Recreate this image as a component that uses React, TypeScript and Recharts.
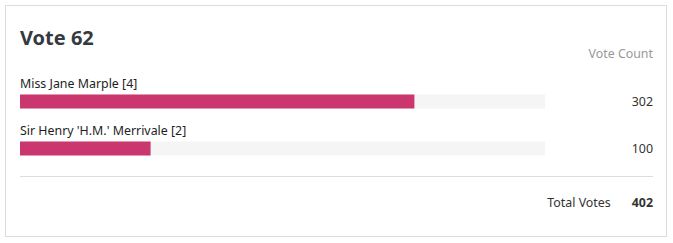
import React from "react";
import { Bar, BarChart, LabelList, XAxis, YAxis } from "recharts";

const candidates = ["Miss Jane Marple [4]", "Sir Henry 'H.M.' Merrivale [2]"];
const votes = [302, 100];
const totalVotes = 402;

const CHART_W = 633;
const FONT = "'Noto Sans', 'Open Sans', sans-serif";

const data = candidates.map((name, i) => ({ name, votes: votes[i] }));

const NameLabel = (props: any) => {
	const { x, y, value } = props;
	return (
		<text x={x} y={y - 7} fontSize={12.4} fill="#1e1e1e" fontFamily={FONT}>
			{value}
		</text>
	);
};

const CountLabel = (props: any) => {
	const { y, height, value } = props;
	return (
		<text
			x={CHART_W}
			y={y + height / 2}
			dy={4}
			fontSize={12.4}
			fill="#333"
			textAnchor="end"
			fontFamily={FONT}
		>
			{value}
		</text>
	);
};

export default function App() {
	return (
		<div
			style={{
				position: "absolute",
				left: 0,
				top: 0,
				width: 673,
				height: 243,
				background: "#fff",
				fontFamily: FONT,
			}}
		>
			<div
				style={{
					position: "absolute",
					left: 5,
					top: 5,
					width: 660,
					height: 230,
					border: "1px solid #dcdcdc",
				}}
			/>
			<div
				style={{
					position: "absolute",
					left: 20,
					top: 24,
					fontSize: 20,
					fontWeight: 700,
					color: "#343a40",
				}}
			>
				Vote 62
			</div>
			<div
				style={{
					position: "absolute",
					right: 20,
					top: 45,
					fontSize: 12.4,
					color: "#999",
				}}
			>
				Vote Count
			</div>
			<div style={{ position: "absolute", left: 20, top: 60 }}>
				<BarChart
					width={CHART_W}
					height={111.5}
					data={data}
					layout="vertical"
					margin={{ top: 17.5, right: 108, left: 0, bottom: 0 }}
				>
					<XAxis type="number" domain={[0, totalVotes]} hide />
					<YAxis type="category" dataKey="name" hide />
					<Bar
						dataKey="votes"
						fill="#c9376e"
						barSize={14}
						background={{ fill: "#f5f5f5" }}
						isAnimationActive={false}
					>
						<LabelList dataKey="name" content={<NameLabel />} />
						<LabelList dataKey="votes" content={<CountLabel />} />
					</Bar>
				</BarChart>
			</div>
			<div
				style={{
					position: "absolute",
					left: 20,
					top: 176,
					width: 633,
					height: 1,
					background: "#dddddd",
				}}
			/>
			<div
				style={{
					position: "absolute",
					right: 20,
					top: 194,
					fontSize: 12.4,
					color: "#333",
					display: "flex",
					gap: 21,
				}}
			>
				<span>Total Votes</span>
				<span style={{ fontWeight: 700 }}>{totalVotes}</span>
			</div>
		</div>
	);
}
